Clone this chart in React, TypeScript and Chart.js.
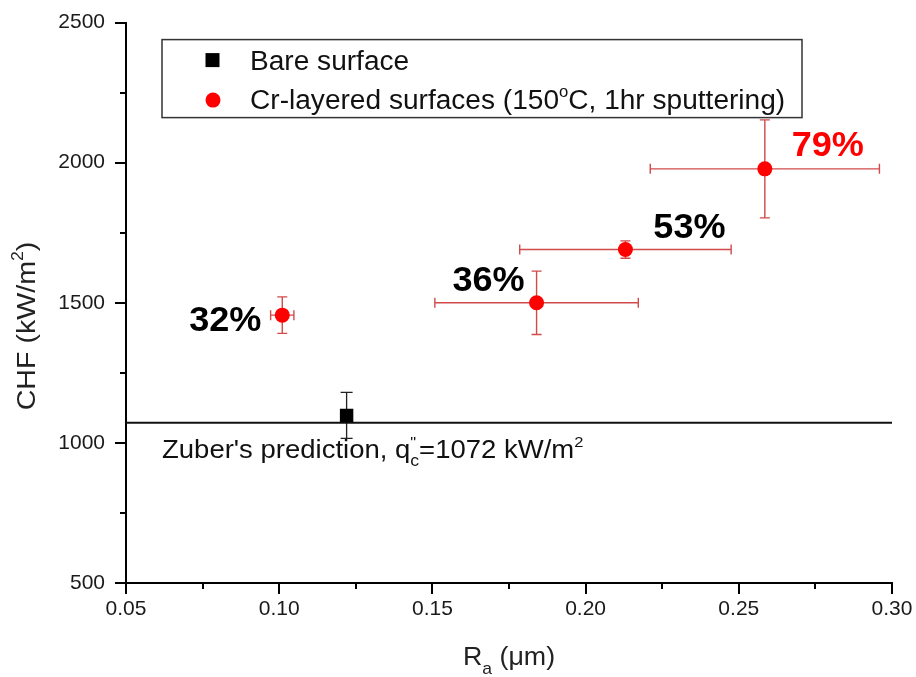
import React, { useEffect, useRef } from 'react';
import { Chart, registerables } from 'chart.js';

Chart.register(...registerables);

// Bare (untreated) surface
const bareRa = [0.122];
const bareChf = [1098];
const bareChfErr = [82];

// Cr-layered surfaces (150 °C, 1 hr sputtering)
const crRa = [0.101, 0.184, 0.213, 0.2585];
const crChf = [1456, 1500, 1690, 1978];
const crRaErr = [0.0038, 0.0332, 0.0345, 0.0374];
const crChfErr = [65, 113, 31, 175];
const crLabels = ['32%', '36%', '53%', '79%'];

// Zuber's CHF prediction, kW/m2
const zuberChf = 1072;

// Axis ticks
const xTicks = [0.05, 0.1, 0.15, 0.2, 0.25, 0.3];
const xMinorTicks = [0.075, 0.125, 0.175, 0.225, 0.275];
const yTicks = [500, 1000, 1500, 2000, 2500];
const yMinorTicks = [750, 1250, 1750, 2250];

const FONT = '"Liberation Sans", Arial, Helvetica, sans-serif';
const RED = '#ff0000';
const ERR_RED = '#d24a4a';

// Pixel offsets of the percentage labels from their points, and their colours
const labelOffsets: [number, number][] = [[-57, 16], [-48, -12], [64, -12], [63, -13]];
const labelColors = ['#000', '#000', '#000', RED];

type Seg = { t: string; size: number; dy?: number; bold?: boolean; stack?: Seg };

function segFont(s: Seg) {
  return `${s.bold ? 'bold ' : ''}${s.size}px ${FONT}`;
}

function segWidth(ctx: CanvasRenderingContext2D, s: Seg) {
  ctx.font = segFont(s);
  let w = ctx.measureText(s.t).width;
  if (s.stack) {
    ctx.font = segFont(s.stack);
    w = Math.max(w, ctx.measureText(s.stack.t).width);
  }
  return w;
}

function drawRich(
  ctx: CanvasRenderingContext2D,
  segs: Seg[],
  x: number,
  y: number,
  align: 'left' | 'center' | 'right',
  color: string,
  sx = 1,
  rotate = 0
) {
  ctx.save();
  ctx.translate(x, y);
  if (rotate) ctx.rotate(rotate);
  ctx.scale(sx, 1);
  const total = segs.reduce((a, s) => a + segWidth(ctx, s), 0);
  let cx = align === 'center' ? -total / 2 : align === 'right' ? -total : 0;
  ctx.fillStyle = color;
  ctx.textAlign = 'left';
  ctx.textBaseline = 'alphabetic';
  for (const s of segs) {
    const w = segWidth(ctx, s);
    ctx.font = segFont(s);
    ctx.fillText(s.t, cx, s.dy || 0);
    if (s.stack) {
      ctx.font = segFont(s.stack);
      ctx.fillText(s.stack.t, cx, s.stack.dy || 0);
    }
    cx += w;
  }
  ctx.restore();
}

// Error bars for every dataset that carries errX / errY arrays
const errorBarPlugin = {
  id: 'errorBars',
  beforeDatasetsDraw(chart: any) {
    const { ctx, scales } = chart;
    const xs = scales.x;
    const ys = scales.y;
    chart.data.datasets.forEach((ds: any) => {
      if (!ds.errY && !ds.errX) return;
      ctx.save();
      ctx.strokeStyle = ds.errColor;
      ctx.lineWidth = ds.errWidth || 1.4;
      const cap = ds.errCap || 5;
      ds.data.forEach((p: any, i: number) => {
        const px = xs.getPixelForValue(p.x);
        const py = ys.getPixelForValue(p.y);
        if (ds.errY) {
          const top = ys.getPixelForValue(p.y + ds.errY[i]);
          const bot = ys.getPixelForValue(p.y - ds.errY[i]);
          ctx.beginPath();
          ctx.moveTo(px, top);
          ctx.lineTo(px, bot);
          ctx.moveTo(px - cap, top);
          ctx.lineTo(px + cap, top);
          ctx.moveTo(px - cap, bot);
          ctx.lineTo(px + cap, bot);
          ctx.stroke();
        }
        if (ds.errX) {
          const l = xs.getPixelForValue(p.x - ds.errX[i]);
          const r = xs.getPixelForValue(p.x + ds.errX[i]);
          ctx.beginPath();
          ctx.moveTo(l, py);
          ctx.lineTo(r, py);
          ctx.moveTo(l, py - cap);
          ctx.lineTo(l, py + cap);
          ctx.moveTo(r, py - cap);
          ctx.lineTo(r, py + cap);
          ctx.stroke();
        }
      });
      ctx.restore();
    });
  },
};

// Minor ticks, legend, annotations and axis titles
const decorPlugin = {
  id: 'decor',
  beforeDraw(chart: any) {
    const { ctx, width, height } = chart;
    ctx.save();
    ctx.fillStyle = '#fff';
    ctx.fillRect(0, 0, width, height);
    ctx.restore();
  },
  afterDatasetsDraw(chart: any) {
    const { ctx, scales } = chart;
    const xs = scales.x;
    const ys = scales.y;
    const meta = chart.getDatasetMeta(0);
    meta.data.forEach((pt: any, i: number) => {
      const [dx, dy] = labelOffsets[i];
      drawRich(ctx, [{ t: crLabels[i], size: 35, bold: true }], pt.x + dx, pt.y + dy, 'center', labelColors[i], 1.03);
    });

    // Zuber's prediction text under the line
    const zy = ys.getPixelForValue(zuberChf);
    drawRich(
      ctx,
      [
        { t: "Zuber's prediction, q", size: 25 },
        { t: 'c', size: 16, dy: 8, stack: { t: '"', size: 15, dy: -11 } },
        { t: '=1072 kW/m', size: 25 },
        { t: '2', size: 15, dy: -11 },
      ],
      xs.left + 36,
      zy + 35,
      'left',
      '#111',
      1.1
    );
  },
  afterDraw(chart: any) {
    const { ctx, scales } = chart;
    const xs = scales.x;
    const ys = scales.y;

    // minor ticks
    ctx.save();
    ctx.strokeStyle = '#000';
    ctx.lineWidth = 2;
    ctx.beginPath();
    xMinorTicks.forEach((v) => {
      const px = Math.round(xs.getPixelForValue(v));
      ctx.moveTo(px, ys.bottom);
      ctx.lineTo(px, ys.bottom + 6);
    });
    yMinorTicks.forEach((v) => {
      const py = Math.round(ys.getPixelForValue(v));
      ctx.moveTo(xs.left, py);
      ctx.lineTo(xs.left - 6, py);
    });
    ctx.stroke();
    ctx.restore();

    // legend box
    const lx = xs.left + 36;
    const ly = ys.top + 17;
    const lw = 640;
    const lh = 78;
    ctx.save();
    ctx.strokeStyle = '#333';
    ctx.lineWidth = 1.5;
    ctx.strokeRect(lx, ly, lw, lh);
    ctx.fillStyle = '#000';
    ctx.fillRect(lx + 43.5, ly + 13.5, 14, 14);
    ctx.fillStyle = RED;
    ctx.beginPath();
    ctx.arc(lx + 51, ly + 60.5, 7.5, 0, Math.PI * 2);
    ctx.fill();
    ctx.restore();
    drawRich(ctx, [{ t: 'Bare surface', size: 27 }], lx + 88, ly + 30, 'left', '#111', 1.04);
    drawRich(
      ctx,
      [
        { t: 'Cr-layered surfaces (150', size: 27 },
        { t: 'o', size: 16, dy: -12 },
        { t: 'C, 1hr sputtering)', size: 27 },
      ],
      lx + 88,
      ly + 69,
      'left',
      '#111',
      1.04
    );

    // axis titles
    const cx = (xs.left + xs.right) / 2;
    drawRich(
      ctx,
      [
        { t: 'R', size: 26 },
        { t: 'a', size: 17, dy: 9 },
        { t: ' (\u03bcm)', size: 26 },
      ],
      cx,
      665,
      'center',
      '#222',
      1.03
    );
    drawRich(
      ctx,
      [
        { t: 'CHF (kW/m', size: 26 },
        { t: '2', size: 16, dy: -12 },
        { t: ')', size: 26 },
      ],
      35,
      326,
      'center',
      '#222',
      1.1,
      -Math.PI / 2
    );
  },
};

export default function App() {
  const canvasRef = useRef<HTMLCanvasElement | null>(null);

  useEffect(() => {
    if (!canvasRef.current) return;
    const chart = new Chart(canvasRef.current, {
      type: 'scatter',
      data: {
        datasets: [
          {
            label: 'Cr-layered surfaces (150°C, 1hr sputtering)',
            data: crRa.map((x, i) => ({ x, y: crChf[i] })),
            pointStyle: 'circle',
            pointRadius: 7.5,
            pointHoverRadius: 7.5,
            backgroundColor: RED,
            borderWidth: 0,
            errX: crRaErr,
            errY: crChfErr,
            errColor: ERR_RED,
            errWidth: 1.4,
            errCap: 5,
          } as any,
          {
            label: 'Bare surface',
            data: bareRa.map((x, i) => ({ x, y: bareChf[i] })),
            pointStyle: 'rect',
            pointRadius: 9.5,
            pointHoverRadius: 9.5,
            backgroundColor: '#000',
            borderWidth: 0,
            errY: bareChfErr,
            errColor: '#222',
            errWidth: 1.3,
            errCap: 6,
          } as any,
          {
            label: "Zuber's prediction",
            data: [
              { x: xTicks[0], y: zuberChf },
              { x: xTicks[xTicks.length - 1], y: zuberChf },
            ],
            showLine: true,
            pointRadius: 0,
            pointHoverRadius: 0,
            borderColor: '#111',
            borderWidth: 1.8,
            fill: false,
          } as any,
        ],
      },
      options: {
        animation: false,
        responsive: false,
        maintainAspectRatio: false,
        events: [],
        layout: { padding: { top: 20, right: 24, left: 0, bottom: 0 } },
        plugins: {
          legend: { display: false },
          tooltip: { enabled: false },
          title: { display: false },
        },
        scales: {
          x: {
            type: 'linear',
            min: xTicks[0],
            max: xTicks[xTicks.length - 1],
            afterBuildTicks: (s: any) => {
              s.ticks = xTicks.map((v) => ({ value: v }));
            },
            afterFit: (s: any) => {
              s.height = 94;
            },
            border: { display: true, color: '#000', width: 2 },
            grid: { drawOnChartArea: false, drawTicks: true, tickLength: 11, color: '#000', lineWidth: 2 },
            ticks: {
              color: '#1a1a1a',
              font: { family: FONT, size: 21 },
              padding: 3,
              maxRotation: 0,
              autoSkip: false,
              callback: (v: any) => Number(v).toFixed(2),
            },
          },
          y: {
            type: 'linear',
            min: yTicks[0],
            max: yTicks[yTicks.length - 1],
            afterBuildTicks: (s: any) => {
              s.ticks = yTicks.map((v) => ({ value: v }));
            },
            afterFit: (s: any) => {
              s.width = 126;
            },
            border: { display: true, color: '#000', width: 2 },
            grid: { drawOnChartArea: false, drawTicks: true, tickLength: 11, color: '#000', lineWidth: 2 },
            ticks: {
              color: '#1a1a1a',
              font: { family: FONT, size: 21 },
              padding: 10,
              autoSkip: false,
              callback: (v: any) => String(v),
            },
          },
        },
      },
      plugins: [errorBarPlugin, decorPlugin],
    });
    return () => chart.destroy();
  }, []);

  return (
    <div style={{ position: 'absolute', left: 0, top: 0, width: 916, height: 677, background: '#fff' }}>
      <canvas ref={canvasRef} width={916} height={677} style={{ display: 'block' }} />
    </div>
  );
}
